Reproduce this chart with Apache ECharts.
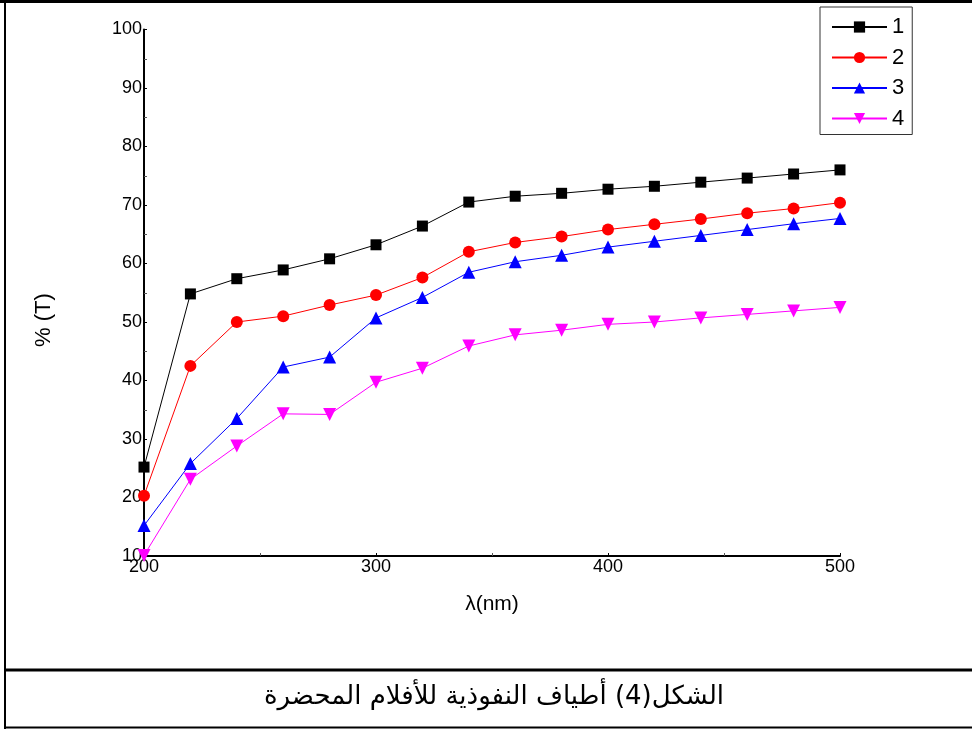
<!DOCTYPE html>
<html>
<head>
<meta charset="utf-8">
<script src="https://cdn.jsdelivr.net/npm/echarts@6/dist/echarts.min.js"></script>
<style>
html,body{margin:0;padding:0;background:#fff;}
#chart{width:972px;height:729px;}
</style>
</head>
<body>
<div id="chart"></div>
<script>
const wavelengths = [200, 220, 240, 260, 280, 300, 320, 340, 360, 380, 400, 420, 440, 460, 480, 500];
const t1 = [25.2, 54.8, 57.4, 58.9, 60.8, 63.2, 66.4, 70.5, 71.5, 72.0, 72.7, 73.2, 73.9, 74.6, 75.3, 76.0];
const t2 = [20.3, 42.5, 50.0, 51.0, 52.9, 54.6, 57.6, 62.0, 63.6, 64.6, 65.8, 66.7, 67.6, 68.6, 69.4, 70.4];
const t3 = [15.2, 25.8, 33.5, 42.3, 44.0, 50.7, 54.2, 58.5, 60.3, 61.4, 62.8, 63.8, 64.8, 65.8, 66.8, 67.7];
const t4 = [10.1, 23.1, 28.8, 34.3, 34.2, 39.7, 42.1, 45.9, 47.8, 48.6, 49.6, 50.0, 50.7, 51.3, 51.9, 52.5];
const seriesNames = ['1', '2', '3', '4'];
const yTicks = {min: 10, max: 100, interval: 10};
const xTicks = {min: 200, max: 500, interval: 100};
const yTitle = '% (T)';
const xTitle = 'λ(nm)';
const caption = 'الشكل(4) أطياف النفوذية للأفلام المحضرة';

function pairs(ys) { return wavelengths.map((x, i) => [x, ys[i]]); }

const chart = echarts.init(document.getElementById('chart'));
const font = 'Liberation Sans, Arial, sans-serif';
const mk = (name, data, color, symbol, size, rot) => ({
  name, type: 'line', data: pairs(data),
  symbol, symbolSize: size, symbolRotate: rot || 0,
  lineStyle: {color, width: 1},
  itemStyle: {color, borderWidth: 0},
  emphasis: {disabled: true},
  animation: false
});

chart.setOption({
  backgroundColor: '#fff',
  animation: false,
  grid: {left: 144, right: 132, top: 29.5, bottom: 173, containLabel: false},
  xAxis: {
    type: 'value', min: xTicks.min, max: xTicks.max, interval: xTicks.interval,
    name: xTitle, nameLocation: 'middle', nameGap: 38,
    nameTextStyle: {fontFamily: font, fontSize: 21, color: '#000'},
    axisLine: {lineStyle: {color: '#000', width: 2}},
    axisTick: {inside: true, length: 3, lineStyle: {color: '#000'}},
    minorTick: {show: true, splitNumber: 2, length: 3, lineStyle: {color: '#555'}},
    axisLabel: {fontFamily: font, fontSize: 18, color: '#000', margin: 2},
    splitLine: {show: false}
  },
  yAxis: {
    type: 'value', min: yTicks.min, max: yTicks.max, interval: yTicks.interval,
    axisLine: {show: true, lineStyle: {color: '#000', width: 2}},
    axisTick: {show: true, inside: true, length: 3, lineStyle: {color: '#000'}},
    minorTick: {show: true, splitNumber: 2, length: 3, lineStyle: {color: '#555'}},
    axisLabel: {fontFamily: font, fontSize: 18, color: '#000', margin: 2},
    splitLine: {show: false}
  },
  legend: {
    orient: 'vertical', left: 820, top: 7,
    data: seriesNames,
    itemWidth: 55, itemHeight: 14, itemGap: 8.5,
    padding: [9, 8, 5, 11],
    borderColor: '#333', borderWidth: 1,
    textStyle: {fontFamily: font, fontSize: 22, color: '#000'},
    selectedMode: false
  },
  series: [
    mk(seriesNames[0], t1, '#000000', 'rect', 11),
    mk(seriesNames[1], t2, '#ff0000', 'circle', 12),
    mk(seriesNames[2], t3, '#0000ff', 'triangle', 13),
    mk(seriesNames[3], t4, '#ff00ff', 'triangle', 13, 180)
  ],
  graphic: [
    {type: 'line', shape: {x1: 0, y1: 1.5, x2: 972, y2: 1.5}, style: {stroke: '#000', lineWidth: 3}, silent: true},
    {type: 'line', shape: {x1: 5, y1: 0, x2: 5, y2: 729}, style: {stroke: '#000', lineWidth: 2}, silent: true},
    {type: 'line', shape: {x1: 4, y1: 670, x2: 972, y2: 670}, style: {stroke: '#000', lineWidth: 3}, silent: true},
    {type: 'line', shape: {x1: 4, y1: 727.5, x2: 972, y2: 727.5}, style: {stroke: '#000', lineWidth: 2}, silent: true},
    {type: 'text', x: 44, y: 320, rotation: Math.PI / 2,
      style: {text: yTitle, fontFamily: font, fontSize: 22, fill: '#000', align: 'center', verticalAlign: 'middle'}, silent: true},
    {type: 'text', x: 494, y: 697,
      style: {text: caption, fontFamily: 'DejaVu Sans, sans-serif', fontSize: 26, fill: '#000', align: 'center', verticalAlign: 'middle'}, silent: true}
  ]
});
</script>
</body>
</html>
